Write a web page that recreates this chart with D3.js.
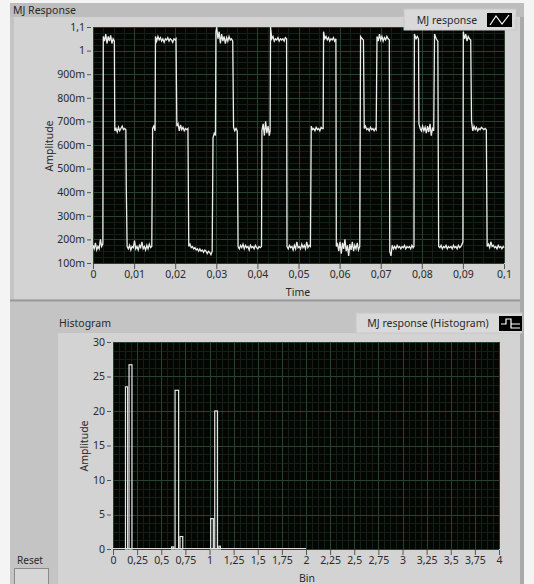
<!DOCTYPE html>
<meta charset="utf-8">
<style>
body { margin: 0; background: #f4f4f4; }
svg text { font-family: "Noto Sans", "Open Sans", sans-serif; fill: #2a2a2a; }
.axis text { font-size: 10.5px; }
.axis line { stroke: #555; }
.axis .domain { display: none; }
</style>
<body>
<svg width="534" height="584"></svg>
<script src="https://cdn.jsdelivr.net/npm/d3@7"></script>
<script>

// MJ response: [time (s), amplitude]
var signal = [
  [0,0.175],[0.0003,0.16],[0.0006,0.185],[0.0009,0.155],[0.0012,0.17],[0.0015,0.16],[0.0018,0.2],[0.0021,0.17],[0.0024,0.18],
  [0.0025,1.06],[0.0028,1.04],[0.0031,1.07],[0.0034,1.03],[0.0037,1.06],[0.004,1.04],[0.0043,1.065],[0.0046,1.03],[0.0049,1.05],[0.0052,1.04],
  [0.0053,0.66],[0.0056,0.67],[0.0059,0.655],[0.0062,0.675],[0.0065,0.66],[0.0068,0.67],[0.0071,0.68],[0.0074,0.665],[0.0077,0.67],[0.008,0.665],
  [0.0081,0.42],[0.0083,0.17],[0.0086,0.16],[0.0089,0.175],[0.0092,0.155],[0.0095,0.17],[0.0098,0.165],[0.0101,0.195],[0.0104,0.16],[0.0107,0.17],
  [0.011,0.155],[0.0113,0.175],[0.0116,0.165],[0.0119,0.19],[0.0122,0.16],[0.0125,0.17],[0.0128,0.155],[0.0131,0.175],[0.0134,0.16],[0.0137,0.18],
  [0.014,0.165],[0.0143,0.17],[0.0144,0.42],[0.0145,0.67],[0.0148,0.68],[0.0151,0.66],
  [0.0152,1.06],[0.0155,1.04],[0.0158,1.06],[0.0161,1.045],[0.0164,1.055],[0.0167,1.04],[0.017,1.05],[0.0173,1.035],[0.0176,1.05],[0.0179,1.045],
  [0.0182,1.055],[0.0185,1.04],[0.0188,1.05],[0.0191,1.045],[0.0194,1.035],[0.0197,1.05],[0.02,1.045],[0.0202,1.05],
  [0.0203,0.86],[0.0204,0.68],[0.0207,0.69],[0.021,0.66],[0.0213,0.685],[0.0216,0.665],[0.0219,0.675],[0.0222,0.66],[0.0225,0.67],[0.0228,0.665],[0.0231,0.67],
  [0.0233,0.17],[0.0236,0.18],[0.0239,0.165],[0.0242,0.17],[0.0245,0.16],[0.0248,0.165],[0.0251,0.155],[0.0254,0.16],[0.0257,0.15],[0.026,0.16],
  [0.0263,0.15],[0.0266,0.155],[0.0269,0.145],[0.0272,0.155],[0.0275,0.15],[0.0278,0.14],[0.0281,0.15],[0.0284,0.145],[0.0287,0.135],[0.029,0.15],
  [0.0292,0.63],[0.0295,0.65],[0.0298,0.64],
  [0.0299,1.08],[0.0301,1.1],[0.0304,1.05],[0.0307,1.08],[0.031,1.03],[0.0313,1.07],[0.0316,1.04],[0.0319,1.06],[0.0322,1.03],[0.0325,1.055],
  [0.0328,1.04],[0.0331,1.06],[0.0334,1.045],[0.0337,1.05],[0.034,1.04],
  [0.0342,0.675],[0.0345,0.66],[0.0348,0.67],[0.0351,0.66],
  [0.0353,0.17],[0.0356,0.16],[0.0359,0.175],[0.0362,0.165],[0.0365,0.18],[0.0368,0.16],[0.0371,0.175],[0.0374,0.165],[0.0377,0.17],[0.038,0.155],
  [0.0383,0.175],[0.0386,0.165],[0.0389,0.17],[0.0392,0.16],[0.0395,0.175],[0.0398,0.165],[0.0401,0.16],[0.0404,0.17],[0.0407,0.165],[0.041,0.17],
  [0.0411,0.66],[0.0414,0.69],[0.0417,0.64],[0.042,0.7],[0.0423,0.65],[0.0426,0.68],[0.0429,0.64],[0.0431,0.66],
  [0.0432,1.1],[0.0435,1.05],[0.0438,1.06],[0.0441,1.04],[0.0444,1.05],[0.0447,1.045],[0.045,1.055],[0.0453,1.04],[0.0456,1.05],[0.0459,1.045],
  [0.0462,1.05],[0.0465,1.04],[0.0468,1.055],[0.0471,1.05],
  [0.0472,0.17],[0.0475,0.16],[0.0478,0.175],[0.0481,0.165],[0.0484,0.17],[0.0487,0.155],[0.049,0.175],[0.0493,0.16],[0.0496,0.19],[0.0499,0.165],
  [0.0502,0.17],[0.0505,0.16],[0.0508,0.18],[0.0511,0.165],[0.0514,0.175],[0.0517,0.16],[0.052,0.19],[0.0523,0.165],[0.0526,0.175],[0.0529,0.17],
  [0.0531,0.68],[0.0534,0.665],[0.0537,0.67],[0.054,0.66],[0.0543,0.675],[0.0546,0.665],[0.0549,0.67],[0.0552,0.66],[0.0555,0.675],[0.0558,0.67],[0.056,0.67],
  [0.0561,1.08],[0.0564,1.05],[0.0567,1.06],[0.057,1.045],[0.0573,1.055],[0.0576,1.04],[0.0579,1.05],[0.0582,1.045],[0.0585,1.055],[0.0588,1.04],[0.0591,1.05],
  [0.0592,0.17],[0.0595,0.18],[0.0598,0.15],[0.0601,0.19],[0.0604,0.14],[0.0607,0.185],[0.061,0.16],[0.0613,0.2],[0.0616,0.15],[0.0619,0.175],
  [0.0622,0.13],[0.0625,0.18],[0.0628,0.155],[0.0631,0.19],[0.0634,0.15],[0.0637,0.175],[0.064,0.16],[0.0643,0.185],[0.0646,0.155],[0.0649,0.17],
  [0.0651,1.06],[0.0655,1.05],[0.0658,1.045],
  [0.066,0.67],[0.0663,0.68],[0.0666,0.665],[0.0669,0.67],[0.0672,0.66],[0.0675,0.675],[0.0678,0.665],[0.0681,0.67],[0.0684,0.66],[0.0687,0.67],[0.0689,0.665],
  [0.069,0.86],[0.0691,1.06],[0.0694,1.04],[0.0697,1.07],[0.07,1.045],[0.0703,1.06],[0.0706,1.04],[0.0709,1.055],[0.0712,1.045],[0.0715,1.06],[0.0718,1.05],[0.0721,1.045],
  [0.0722,0.15],[0.0725,0.13],[0.0728,0.175],[0.0731,0.16],[0.0734,0.17],[0.0737,0.16],[0.074,0.175],[0.0743,0.165],[0.0746,0.17],[0.0749,0.16],
  [0.0752,0.17],[0.0755,0.165],[0.0758,0.175],[0.0761,0.16],[0.0764,0.17],[0.0767,0.165],[0.077,0.17],[0.0773,0.16],[0.0776,0.175],[0.0779,0.165],[0.0781,0.17],
  [0.0782,1.07],[0.0786,1.05],[0.0789,1.06],[0.0792,1.05],
  [0.0793,0.69],[0.0796,0.67],[0.0799,0.66],[0.0802,0.68],[0.0805,0.66],[0.0808,0.675],[0.0811,0.65],[0.0814,0.68],[0.0817,0.655],[0.082,0.69],[0.0823,0.64],[0.0826,0.67],[0.0829,0.66],
  [0.0831,1.07],[0.0835,1.05],[0.0839,1.04],
  [0.0841,0.17],[0.0844,0.165],[0.0847,0.175],[0.085,0.16],[0.0853,0.17],[0.0856,0.165],[0.0859,0.175],[0.0862,0.16],[0.0865,0.17],[0.0868,0.165],
  [0.0871,0.17],[0.0874,0.16],[0.0877,0.175],[0.088,0.165],[0.0883,0.17],[0.0886,0.16],[0.0889,0.175],[0.0892,0.165],[0.0895,0.17],[0.0898,0.18],[0.09,0.19],
  [0.0901,1.08],[0.0904,1.05],[0.0907,1.07],[0.091,1.04],[0.0913,1.06],[0.0916,1.05],[0.0919,1.045],
  [0.0921,0.7],[0.0924,0.66],[0.0927,0.68],[0.093,0.665],[0.0933,0.675],[0.0936,0.66],[0.0939,0.67],[0.0942,0.665],[0.0945,0.675],[0.0948,0.67],[0.0951,0.665],[0.0954,0.67],[0.0957,0.665],
  [0.0959,0.17],[0.0962,0.18],[0.0965,0.165],[0.0968,0.19],[0.0971,0.17],[0.0974,0.175],[0.0977,0.165],[0.098,0.17],[0.0983,0.16],[0.0986,0.175],
  [0.0989,0.165],[0.0992,0.17],[0.0995,0.16],[0.0998,0.17],[0.1,0.165]
];

// histogram bins of the response
var binLeft  = [0.122, 0.159, 0.600, 0.636, 0.687, 1.005, 1.047, 1.090];
var binRight = [0.159, 0.204, 0.636, 0.687, 0.730, 1.047, 1.090, 1.120];
var binCount = [23.5, 26.7, 0.3, 23, 1.8, 4.4, 20, 0.4];
var binRange = [0, 2];

var timeTicks = [0, 0.01, 0.02, 0.03, 0.04, 0.05, 0.06, 0.07, 0.08, 0.09, 0.1];
var ampTicks  = [0.1, 0.2, 0.3, 0.4, 0.5, 0.6, 0.7, 0.8, 0.9, 1, 1.1];
var binTicks  = [0, 0.25, 0.5, 0.75, 1, 1.25, 1.5, 1.75, 2, 2.25, 2.5, 2.75, 3, 3.25, 3.5, 3.75, 4];
var countTicks = [0, 5, 10, 15, 20, 25, 30];

var svg = d3.select("svg");

function comma(v) { return String(+v.toFixed(4)).replace(".", ","); }
function milli(v) { return v >= 1 ? comma(v) : Math.round(v * 1000) + "m"; }

// panel backgrounds
svg.append("rect").attr("x", 10).attr("y", 3).attr("width", 514).attr("height", 581).attr("fill", "#c4c4c4");
svg.append("rect").attr("x", 10).attr("y", 3).attr("width", 514).attr("height", 14).attr("fill", "#bdbdbd");
svg.append("rect").attr("x", 14).attr("y", 17).attr("width", 507).attr("height", 282).attr("fill", "#d3d3d3");
svg.append("line").attr("x1", 10).attr("x2", 524).attr("y1", 300.5).attr("y2", 300.5).attr("stroke", "#9a9a9a").attr("stroke-width", 2);
svg.append("rect").attr("x", 58).attr("y", 333).attr("width", 463).attr("height", 251).attr("fill", "#d3d3d3");
svg.append("rect").attr("x", 520).attr("y", 17).attr("width", 4).attr("height", 567).attr("fill", "#aaaaaa");

svg.append("text").attr("x", 13).attr("y", 14).style("font-size", "10.5px").text("MJ Response");
svg.append("text").attr("x", 59).attr("y", 327).style("font-size", "10.5px").text("Histogram");

function drawGrid(g, x, y, xStep, yStep, w, h) {
  var xd = x.domain(), yd = y.domain();
  var xm = d3.range(xd[0], xd[1] + xStep / 8, xStep / 4);
  var ym = d3.range(yd[0], yd[1] + yStep / 8, yStep / 4);
  g.append("rect").attr("width", w).attr("height", h).attr("fill", "#040604");
  g.selectAll(".vmin").data(xm).enter().append("line")
    .attr("x1", function(d) { return Math.round(x(d)) + 0.5; }).attr("x2", function(d) { return Math.round(x(d)) + 0.5; })
    .attr("y1", 0).attr("y2", h).attr("stroke", "#141f18");
  g.selectAll(".hmin").data(ym).enter().append("line")
    .attr("y1", function(d) { return Math.round(y(d)) + 0.5; }).attr("y2", function(d) { return Math.round(y(d)) + 0.5; })
    .attr("x1", 0).attr("x2", w).attr("stroke", "#141f18");
  var xM = d3.range(xd[0], xd[1] + xStep / 2, xStep);
  var yM = d3.range(yd[0], yd[1] + yStep / 2, yStep);
  g.selectAll(".vmaj").data(xM).enter().append("line")
    .attr("x1", function(d) { return Math.round(x(d)) + 0.5; }).attr("x2", function(d) { return Math.round(x(d)) + 0.5; })
    .attr("y1", 0).attr("y2", h).attr("stroke", "#27432f");
  g.selectAll(".hmaj").data(yM).enter().append("line")
    .attr("y1", function(d) { return Math.round(y(d)) + 0.5; }).attr("y2", function(d) { return Math.round(y(d)) + 0.5; })
    .attr("x1", 0).attr("x2", w).attr("stroke", "#27432f");
}

// ---- top: time response ----
var m1 = {left: 93, top: 27}, w1 = 411, h1 = 236;
var x1 = d3.scaleLinear().domain([0, 0.1]).range([0, w1]);
var y1 = d3.scaleLinear().domain([0.1, 1.1]).range([h1, 0]);
var g1 = svg.append("g").attr("transform", "translate(" + m1.left + "," + m1.top + ")");
drawGrid(g1, x1, y1, 0.01, 0.1, w1, h1);

g1.append("path")
  .datum(signal)
  .attr("fill", "none")
  .attr("stroke", "#ececec")
  .attr("stroke-width", 1.3)
  .attr("d", d3.line().x(function(d) { return x1(d[0]); }).y(function(d) { return y1(d[1]); }));

g1.append("g").attr("class", "axis").attr("transform", "translate(-2,0)")
  .call(d3.axisLeft(y1).tickValues(ampTicks).tickFormat(milli).tickSize(4).tickPadding(2));
g1.append("g").attr("class", "axis").attr("transform", "translate(0," + (h1 + 1) + ")")
  .call(d3.axisBottom(x1).tickValues(timeTicks).tickFormat(comma).tickSize(5).tickPadding(2));

svg.append("text").attr("x", 298).attr("y", 296).attr("text-anchor", "middle").style("font-size", "10.5px").text("Time");
svg.append("text").attr("transform", "translate(53,146) rotate(-90)").attr("text-anchor", "middle").style("font-size", "10.5px").text("Amplitude");

// legend top
svg.append("rect").attr("x", 404).attr("y", 9).attr("width", 112).attr("height", 21).attr("fill", "#d9d9d9").attr("stroke", "#c8c8c8");
svg.append("text").attr("x", 447).attr("y", 24).attr("text-anchor", "middle").style("font-size", "10.5px").text("MJ response");
svg.append("rect").attr("x", 487).attr("y", 13).attr("width", 25).attr("height", 14).attr("fill", "#000");
svg.append("path").attr("d", "M490,25 L496,16 L502,24 L509,15").attr("fill", "none").attr("stroke", "#fff").attr("stroke-width", 1.2);

// ---- bottom: histogram ----
var m2 = {left: 113, top: 342}, w2 = 386, h2 = 207;
var x2 = d3.scaleLinear().domain([0, 4]).range([0, w2]);
var y2 = d3.scaleLinear().domain([0, 30]).range([h2, 0]);
var g2 = svg.append("g").attr("transform", "translate(" + m2.left + "," + m2.top + ")");
drawGrid(g2, x2, y2, 0.25, 5, w2, h2);

g2.append("line")
  .attr("x1", x2(binRange[0])).attr("x2", x2(binRange[1]))
  .attr("y1", y2(0) - 0.5).attr("y2", y2(0) - 0.5)
  .attr("stroke", "#dcdcdc").attr("stroke-width", 1.2);

g2.selectAll(".bar").data(binCount).enter().append("rect")
  .attr("x", function(d, i) { return x2(binLeft[i]) + 0.7; })
  .attr("y", function(d) { return y2(d); })
  .attr("width", function(d, i) { return x2(binRight[i]) - x2(binLeft[i]) - 1.4; })
  .attr("height", function(d) { return y2(0) - y2(d); })
  .attr("fill", "none").attr("stroke", "#e6e6e6").attr("stroke-width", 1.2);

g2.append("g").attr("class", "axis").attr("transform", "translate(-2,0)")
  .call(d3.axisLeft(y2).tickValues(countTicks).tickSize(4).tickPadding(2));
g2.append("g").attr("class", "axis").attr("transform", "translate(0," + (h2 + 1) + ")")
  .call(d3.axisBottom(x2).tickValues(binTicks).tickFormat(comma).tickSize(5).tickPadding(2));

svg.append("text").attr("x", 307).attr("y", 582).attr("text-anchor", "middle").style("font-size", "10.5px").text("Bin");
svg.append("text").attr("transform", "translate(88,446) rotate(-90)").attr("text-anchor", "middle").style("font-size", "10.5px").text("Amplitude");

// legend histogram
svg.append("rect").attr("x", 356).attr("y", 313).attr("width", 166).attr("height", 20).attr("fill", "#d9d9d9").attr("stroke", "#c8c8c8");
svg.append("text").attr("x", 428).attr("y", 327).attr("text-anchor", "middle").style("font-size", "10.5px").text("MJ response (Histogram)");
svg.append("rect").attr("x", 499).attr("y", 316).attr("width", 23).attr("height", 15).attr("fill", "#000");
svg.append("path").attr("d", "M501,324 L506,324 L506,319 L511,319 L511,328 L520,328 M511,324 L520,324").attr("fill", "none").attr("stroke", "#fff").attr("stroke-width", 1.2);

// reset button
svg.append("text").attr("x", 30).attr("y", 564).attr("text-anchor", "middle").style("font-size", "10px").text("Reset");
svg.append("rect").attr("x", 14.5).attr("y", 568.5).attr("width", 34).attr("height", 16).attr("fill", "#d6d6d6").attr("stroke", "#8a8a8a");

</script>
</body>
